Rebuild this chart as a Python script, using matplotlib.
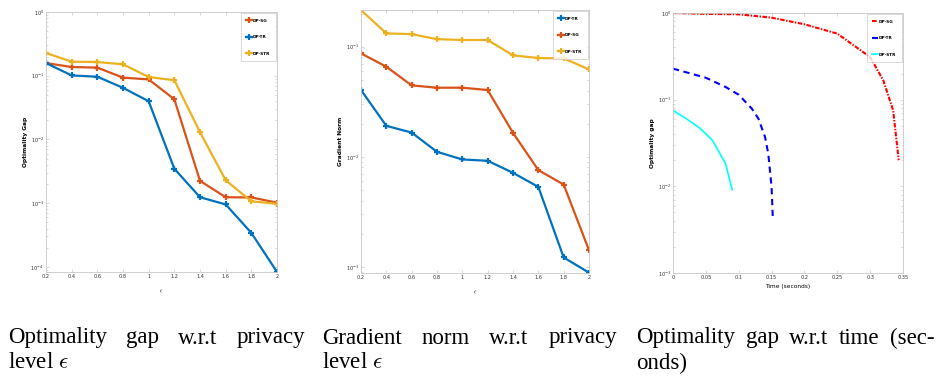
import numpy as np
import matplotlib
matplotlib.use("Agg")
import matplotlib.pyplot as plt
from matplotlib.ticker import LogLocator, NullFormatter

plt.rcParams['mathtext.fontset'] = 'cm'

# ---------------- data ----------------
eps = [0.2, 0.4, 0.6, 0.8, 1.0, 1.2, 1.4, 1.6, 1.8, 2.0]
eps_ticks = ["0.2", "0.4", "0.6", "0.8", "1", "1.2", "1.4", "1.6", "1.8", "2"]

gap_sg = [0.158, 0.137, 0.134, 0.0933, 0.0875, 0.0427, 0.00224, 0.00124, 0.00123, 0.00102]
gap_tr = [0.158, 0.101, 0.0964, 0.0646, 0.0398, 0.00347, 0.00124, 0.000955, 0.000342, 0.0000832]
gap_str = [0.227, 0.166, 0.164, 0.151, 0.0955, 0.0851, 0.0130, 0.00229, 0.00107, 0.000977]

grad_tr = [0.0404, 0.0191, 0.0166, 0.0111, 0.00946, 0.00920, 0.00716, 0.00533, 0.00122, 0.000887]
grad_sg = [0.0869, 0.0658, 0.0445, 0.0424, 0.0424, 0.0404, 0.0165, 0.00757, 0.00560, 0.00142]
grad_str = [0.215, 0.132, 0.130, 0.117, 0.115, 0.115, 0.0834, 0.0789, 0.0783, 0.0622]

t_sg = [0.0, 0.05, 0.1, 0.15, 0.2, 0.25, 0.3, 0.32, 0.335, 0.3435]
time_sg = [1.0, 0.977, 0.966, 0.883, 0.741, 0.578, 0.310, 0.167, 0.0753, 0.0200]
t_tr = [0.0, 0.05, 0.08, 0.1, 0.12, 0.13, 0.14, 0.145, 0.15, 0.152]
time_tr = [0.228, 0.179, 0.140, 0.114, 0.0787, 0.0604, 0.0372, 0.0238, 0.00982, 0.00406]
t_str = [0.0, 0.02, 0.04, 0.06, 0.08, 0.09]
time_str = [0.0753, 0.0604, 0.0475, 0.0340, 0.0183, 0.00916]

time_ticks = [0, 0.05, 0.1, 0.15, 0.2, 0.25, 0.3, 0.35]
time_ticklabels = ["0", "0.05", "0.1", "0.15", "0.2", "0.25", "0.3", "0.35"]

C_BLUE = "#0072BD"
C_ORANGE = "#D95319"
C_YELLOW = "#EDB120"

W, H = 941, 381
fig = plt.figure(figsize=(W / 100, H / 100), dpi=100)


def px_axes(l, t, r, b):
    return fig.add_axes([l / W, 1 - b / H, (r - l) / W, (b - t) / H])


def style(ax):
    for s in ax.spines.values():
        s.set_color("#c8c8c8")
        s.set_linewidth(0.6)
    ax.tick_params(which="both", direction="in", top=True, right=True,
                   labelsize=3.6, colors="#c8c8c8", labelcolor="#333333",
                   length=2.2, width=0.5, pad=1.5)
    ax.tick_params(which="minor", length=1.3)
    ax.set_yscale("log")
    ax.yaxis.set_minor_locator(LogLocator(base=10, subs=np.arange(2, 10)))
    ax.yaxis.set_minor_formatter(NullFormatter())


def legend(ax, handles, labels):
    lg = ax.legend(handles, labels, loc="upper right",
                   labelspacing=2.9, handlelength=1.3, handletextpad=0.25,
                   borderpad=1.3, borderaxespad=0.25, frameon=True, fancybox=False,
                   prop={"size": 3.1, "weight": "bold"})
    lg.get_frame().set_edgecolor("#c8c8c8")
    lg.get_frame().set_linewidth(0.6)


mk = dict(marker="+", markersize=5, markeredgewidth=1.6, linewidth=1.6)

# ---------------- panel 1 ----------------
ax1 = px_axes(46, 12, 277, 272)
style(ax1)
l_sg, = ax1.plot(eps, gap_sg, color=C_ORANGE, **mk)
l_tr, = ax1.plot(eps, gap_tr, color=C_BLUE, **mk)
l_str, = ax1.plot(eps, gap_str, color=C_YELLOW, **mk)
ax1.set_xlim(0.2, 2.0)
ax1.set_ylim(10 ** -4.08, 1.0)
ax1.set_xticks(eps)
ax1.set_xticklabels(eps_ticks)
ax1.set_ylabel("Optimality Gap", fontsize=4.2, fontweight="bold", labelpad=2)
ax1.set_xlabel(r"$\epsilon$", fontsize=4.5, labelpad=6)
legend(ax1, [l_sg, l_tr, l_str], ["DP-SG", "DP-TR", "DP-STR"])

# ---------------- panel 2 ----------------
ax2 = px_axes(361, 10, 589, 273)
style(ax2)
g_tr, = ax2.plot(eps, grad_tr, color=C_BLUE, **mk)
g_sg, = ax2.plot(eps, grad_sg, color=C_ORANGE, **mk)
g_str, = ax2.plot(eps, grad_str, color=C_YELLOW, **mk)
ax2.set_xlim(0.2, 2.0)
ax2.set_ylim(10 ** -3.055, 10 ** -0.667)
ax2.set_xticks(eps)
ax2.set_xticklabels(eps_ticks)
ax2.set_ylabel("Gradient Norm", fontsize=4.2, fontweight="bold", labelpad=2)
ax2.set_xlabel(r"$\epsilon$", fontsize=4.5, labelpad=6)
legend(ax2, [g_tr, g_sg, g_str], ["DP-TR", "DP-SG", "DP-STR"])

# ---------------- panel 3 ----------------
ax3 = px_axes(673, 13, 903, 273)
style(ax3)
h_sg, = ax3.plot(t_sg, time_sg, color="red", linestyle=(0, (2.2, 0.7, 0.7, 0.7)), linewidth=1.5)
h_tr, = ax3.plot(t_tr, time_tr, color="blue", linestyle=(0, (3, 2.2)), linewidth=1.5)
h_str, = ax3.plot(t_str, time_str, color="cyan", linestyle="-", linewidth=1.2)
ax3.set_xlim(0, 0.35)
ax3.set_ylim(1e-3, 1.0)
ax3.set_xticks(time_ticks)
ax3.set_xticklabels(time_ticklabels)
ax3.set_ylabel("Optimality gap", fontsize=4.2, fontweight="bold", labelpad=2)
ax3.set_xlabel("Time (seconds)", fontsize=4.2, labelpad=3)
legend(ax3, [h_sg, h_tr, h_str], ["DP-SG", "DP-TR", "DP-STR"])

# ---------------- captions ----------------
cap_font = dict(family="Liberation Serif", fontsize=16.5, color="black", va="center")


def justified(words, left, right, y):
    texts = [fig.text(0, 1 - y / H, w, **cap_font) for w in words]
    fig.canvas.draw()
    r = fig.canvas.get_renderer()
    widths = [t.get_window_extent(r).width for t in texts]
    gap = (right - left - sum(widths)) / max(len(words) - 1, 1)
    x = left
    for t, w in zip(texts, widths):
        t.set_x(x / W)
        x += w + gap


justified(["Optimality", "gap", "w.r.t", "privacy"], 8, 305, 338)
fig.text(8 / W, 1 - 363 / H, r"level $\epsilon$", **cap_font)
justified(["Gradient", "norm", "w.r.t", "privacy"], 322, 617, 338)
fig.text(322 / W, 1 - 363 / H, r"level $\epsilon$", **cap_font)
justified(["Optimality", "gap", "w.r.t", "time", "(sec-"], 636, 935, 338)
fig.text(636 / W, 1 - 363 / H, "onds)", **cap_font)

fig.savefig("out.png", dpi=100)
